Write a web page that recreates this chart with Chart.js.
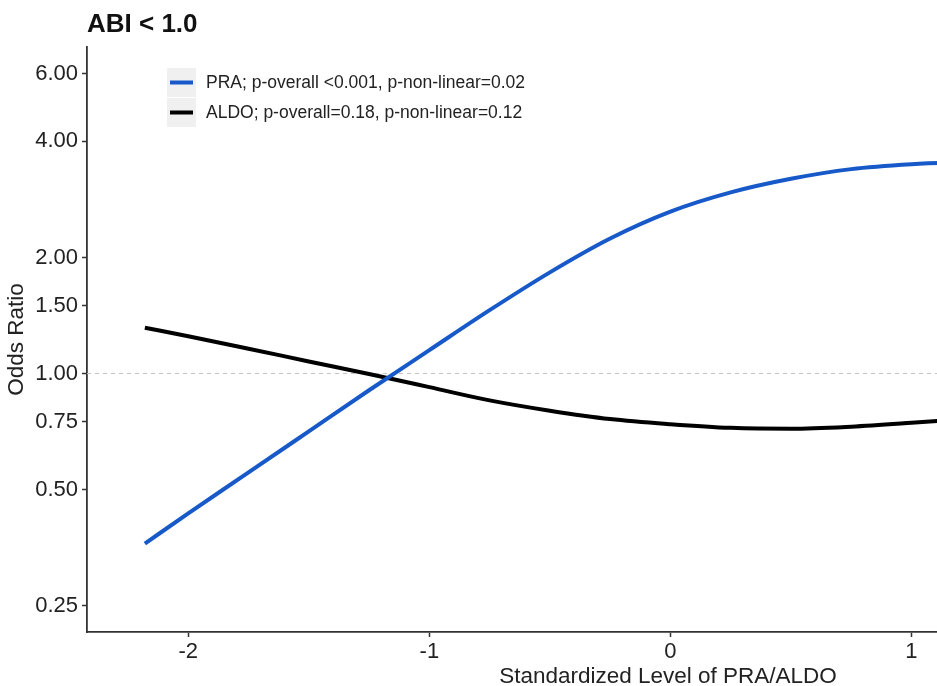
<!DOCTYPE html>
<html>
<head>
<meta charset="utf-8">
<script src="https://cdn.jsdelivr.net/npm/chart.js@4"></script>
<style>
  html, body { margin: 0; padding: 0; overflow: hidden; background: #fff; }
  #wrap { position: relative; width: 1262px; height: 686px; }
</style>
</head>
<body>
<div id="wrap"><canvas id="c"></canvas></div>
<script>
// ---- data ----
const chartTitle = "ABI < 1.0";
const xValues = [-2.18, -2.0, -1.75, -1.5, -1.25, -1.0, -0.75, -0.5, -0.25, 0, 0.25, 0.5, 0.75, 1.0, 1.25];
const praOR   = [0.362, 0.434, 0.554, 0.708, 0.905, 1.15, 1.46, 1.83, 2.24, 2.63, 2.95, 3.20, 3.39, 3.49, 3.54];
const aldoOR  = [1.315, 1.25, 1.16, 1.075, 0.997, 0.922, 0.852, 0.801, 0.762, 0.739, 0.723, 0.719, 0.728, 0.745, 0.765];
const praLabel  = "PRA; p-overall <0.001, p-non-linear=0.02";
const aldoLabel = "ALDO; p-overall=0.18, p-non-linear=0.12";
const yTicks = [0.25, 0.5, 0.75, 1, 1.5, 2, 4, 6];
const xTicks = [-2, -1, 0, 1, 2];
const xRange = [-2.42, 2.40];
const yRange = [0.2136, 7.03];
const refValue = 1;

const FONT = "Arial, 'Liberation Sans', sans-serif";

const toPts = (xs, ys) => xs.map((x, i) => ({ x: x, y: ys[i] }));

const titlePlugin = {
  id: 'leftTitle',
  afterDraw(chart) {
    const ctx = chart.ctx;
    ctx.save();
    ctx.font = "bold 26px " + FONT;
    ctx.fillStyle = "#111";
    ctx.textAlign = "left";
    ctx.textBaseline = "alphabetic";
    ctx.fillText(chartTitle, chart.chartArea.left, 32);
    ctx.restore();
  }
};

const legendPlugin = {
  id: 'insideLegend',
  afterDraw(chart) {
    const ctx = chart.ctx;
    const items = chart.data.datasets.filter(d => d.showInLegend);
    const x0 = chart.chartArea.left + 80;
    let y0 = chart.chartArea.top + 21;
    ctx.save();
    items.forEach(d => {
      ctx.fillStyle = "#f0f0f0";
      ctx.fillRect(x0, y0, 29, 29);
      ctx.strokeStyle = d.borderColor;
      ctx.lineWidth = 4;
      ctx.beginPath();
      ctx.moveTo(x0 + 3, y0 + 14.5);
      ctx.lineTo(x0 + 26, y0 + 14.5);
      ctx.stroke();
      ctx.fillStyle = "#222";
      ctx.font = "17.5px " + FONT;
      ctx.textBaseline = "middle";
      ctx.textAlign = "left";
      ctx.fillText(d.label, x0 + 39, y0 + 15);
      y0 += 30;
    });
    ctx.restore();
  }
};

new Chart(document.getElementById('c'), {
  type: 'line',
  data: {
    datasets: [
      {
        label: praLabel, showInLegend: true,
        data: toPts(xValues, praOR),
        borderColor: '#1759C8', borderWidth: 4, pointRadius: 0,
        cubicInterpolationMode: 'monotone', order: 1
      },
      {
        label: aldoLabel, showInLegend: true,
        data: toPts(xValues, aldoOR),
        borderColor: '#000000', borderWidth: 4, pointRadius: 0,
        cubicInterpolationMode: 'monotone', order: 2
      },
      {
        label: 'ref', showInLegend: false,
        data: [{ x: xRange[0], y: refValue }, { x: xRange[1], y: refValue }],
        borderColor: '#c4c4c4', borderWidth: 1, borderDash: [4, 4], pointRadius: 0, order: 3
      }
    ]
  },
  options: {
    responsive: true,
    maintainAspectRatio: false,
    animation: false,
    layout: { padding: { top: 47, left: 0, right: 13, bottom: 0 } },
    plugins: { legend: { display: false }, tooltip: { enabled: false }, title: { display: false } },
    scales: {
      x: {
        type: 'linear', min: xRange[0], max: xRange[1],
        afterBuildTicks: s => { s.ticks = xTicks.map(v => ({ value: v })); },
        afterFit: s => { s.height = 54; },
        grid: { display: true, drawOnChartArea: false, drawTicks: true, tickLength: 5, tickColor: '#333', tickWidth: 1.5 },
        border: { display: true, color: '#333', width: 1.8 },
        ticks: { color: '#222', font: { size: 22, family: FONT }, padding: 2, callback: v => String(v) },
        title: { display: true, text: 'Standardized Level of PRA/ALDO', color: '#222', font: { size: 22.5, family: FONT, lineHeight: 0.8 }, padding: { top: 0, bottom: 0 } }
      },
      y: {
        type: 'logarithmic', min: yRange[0], max: yRange[1],
        afterBuildTicks: s => { s.ticks = yTicks.map(v => ({ value: v })); },
        afterFit: s => { s.width = 87; },
        grid: { display: true, drawOnChartArea: false, drawTicks: true, tickLength: 5, tickColor: '#333', tickWidth: 1.5 },
        border: { display: true, color: '#333', width: 1.8 },
        ticks: { color: '#222', font: { size: 22, family: FONT }, padding: 4, callback: v => Number(v).toFixed(2) },
        title: { display: true, text: 'Odds Ratio', color: '#222', font: { size: 22.5, family: FONT, lineHeight: 1.0 }, padding: { top: 6, bottom: 0 } }
      }
    }
  },
  plugins: [titlePlugin, legendPlugin]
});
</script>
</body>
</html>
